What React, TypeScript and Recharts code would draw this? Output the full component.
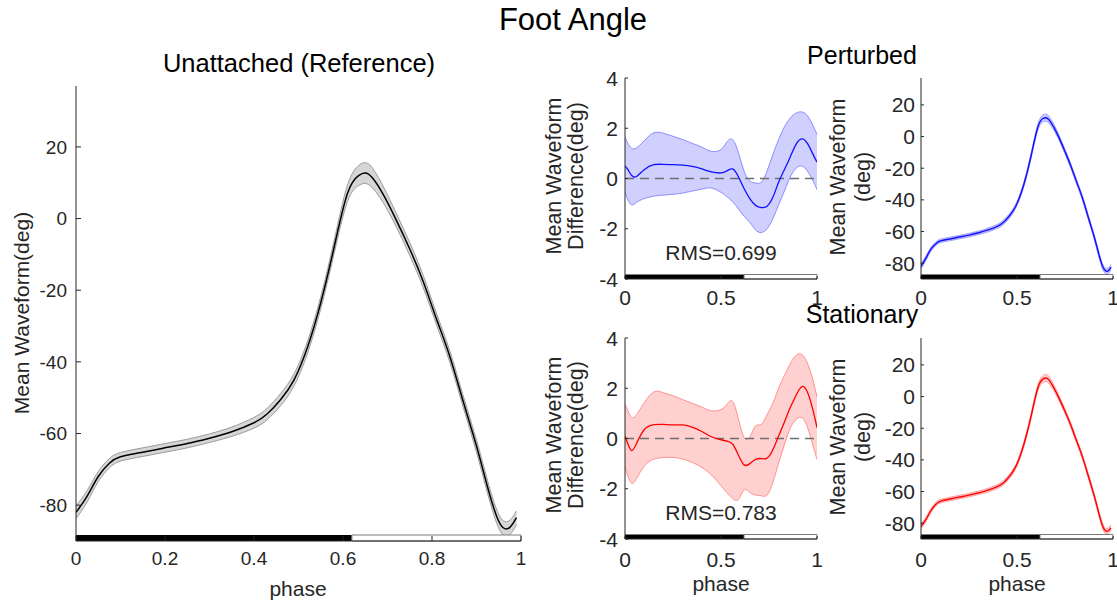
import React from "react";
import {
  ComposedChart,
  Line,
  Area,
  XAxis,
  YAxis,
  ReferenceArea,
  ReferenceLine,
} from "recharts";

// ---- data ----
const phaseRef = [0, 0.025, 0.05, 0.075, 0.1, 0.15, 0.2, 0.25, 0.3, 0.35, 0.4, 0.43, 0.46, 0.49, 0.52, 0.55, 0.58, 0.61, 0.635, 0.65, 0.665, 0.69, 0.72, 0.75, 0.78, 0.81, 0.84, 0.87, 0.9, 0.925, 0.945, 0.96, 0.975, 0.99];
const referenceMean = [-82, -77.5, -72, -68.3, -66.5, -65.2, -64.0, -62.8, -61.3, -59.5, -57.0, -54.5, -50.5, -45, -36, -23.5, -8, 7, 12, 12.7, 11.5, 6.8, -0.5, -8.5, -17.5, -28, -38.5, -51, -63.5, -75, -83, -86.3, -86.2, -83.5];
const referenceSpread = [1.8, 1.6, 1.4, 1.3, 1.2, 1.2, 1.2, 1.2, 1.2, 1.3, 1.5, 1.6, 1.7, 1.7, 1.7, 1.7, 1.8, 2.3, 2.8, 2.9, 2.8, 2.3, 1.9, 1.8, 1.7, 1.6, 1.6, 1.6, 1.7, 1.8, 1.9, 2.0, 2.0, 1.9];
const perturbedMean = [-82, -77, -71.5, -68, -66, -64.7, -63.5, -62.3, -60.8, -59, -56.6, -54.2, -50.2, -44.8, -36.2, -24, -8.5, 6.5, 11.4, 11.9, 10.8, 6.3, -1, -9.5, -18.5, -28.5, -38.5, -50.5, -62.5, -73.8, -81.8, -84.7, -84.9, -82.5];
const perturbedSpread = [1.5, 1.4, 1.3, 1.2, 1.1, 1.1, 1.1, 1.1, 1.1, 1.2, 1.3, 1.4, 1.4, 1.4, 1.4, 1.5, 1.6, 1.9, 2.2, 2.3, 2.2, 1.9, 1.6, 1.5, 1.4, 1.4, 1.4, 1.4, 1.5, 1.6, 1.7, 1.8, 1.8, 1.7];
const stationaryMean = [-82, -77.8, -72.4, -68.4, -66.2, -64.7, -63.5, -62.3, -60.8, -59.1, -56.7, -54.4, -50.5, -45.1, -36.3, -24, -8.8, 6, 11, 11.7, 10.7, 6, -1.3, -9.3, -18, -27.9, -37.8, -49.6, -61.8, -73.2, -81.5, -84.8, -84.8, -83];
const stationarySpread = [1.5, 1.4, 1.3, 1.2, 1.1, 1.1, 1.1, 1.1, 1.1, 1.2, 1.3, 1.4, 1.4, 1.4, 1.4, 1.5, 1.6, 1.9, 2.2, 2.3, 2.2, 1.9, 1.6, 1.5, 1.4, 1.4, 1.4, 1.4, 1.5, 1.6, 1.7, 1.8, 1.8, 1.7];

const phaseDiff = [0, 0.015, 0.035, 0.06, 0.1, 0.15, 0.2, 0.25, 0.3, 0.35, 0.4, 0.45, 0.5, 0.53, 0.56, 0.59, 0.62, 0.65, 0.68, 0.71, 0.74, 0.77, 0.8, 0.83, 0.86, 0.89, 0.92, 0.95, 0.98, 1.0];
const perturbedDiff = [0.5, 0.35, 0.12, 0.08, 0.35, 0.55, 0.56, 0.55, 0.53, 0.48, 0.38, 0.26, 0.22, 0.3, 0.38, 0.08, -0.4, -0.8, -1.07, -1.16, -1.1, -0.75, -0.15, 0.35, 0.85, 1.35, 1.58, 1.4, 0.95, 0.65];
const perturbedDiffUpper = [1.65, 1.4, 1.2, 1.22, 1.5, 1.82, 1.8, 1.68, 1.55, 1.4, 1.25, 1.08, 1.15, 1.45, 1.55, 1.05, 0.3, -0.1, -0.18, -0.15, 0.3, 0.95, 1.55, 2.05, 2.4, 2.6, 2.65, 2.5, 2.1, 1.75];
const perturbedDiffLower = [-0.55, -0.85, -1.05, -0.95, -0.8, -0.7, -0.66, -0.63, -0.58, -0.5, -0.42, -0.38, -0.55, -0.72, -0.92, -1.2, -1.5, -1.75, -2.05, -2.15, -2.0, -1.6, -1.05, -0.5, 0.05, 0.4, 0.5, 0.3, -0.1, -0.45];
const stationaryDiff = [0.1, -0.22, -0.48, -0.2, 0.35, 0.55, 0.56, 0.54, 0.54, 0.45, 0.28, 0.07, -0.05, -0.1, -0.22, -0.65, -1.05, -1.0, -0.83, -0.8, -0.78, -0.45, 0.1, 0.65, 1.22, 1.7, 2.06, 1.85, 1.1, 0.43];
const stationaryDiffUpper = [1.37, 1.1, 0.83, 0.95, 1.42, 1.85, 1.82, 1.7, 1.55, 1.4, 1.25, 1.1, 1.15, 1.35, 1.48, 0.8, 0.05, 0.05, 0.5, 0.56, 0.95, 1.4, 2.0, 2.5, 2.97, 3.3, 3.35, 3.0, 2.3, 1.64];
const stationaryDiffLower = [-1.11, -1.5, -1.78, -1.6, -1.1, -0.82, -0.76, -0.75, -0.82, -0.95, -1.15, -1.45, -1.88, -2.15, -2.38, -2.43, -2.05, -2.15, -2.25, -2.28, -2.25, -1.75, -0.98, -0.25, 0.4, 0.75, 0.83, 0.45, -0.3, -0.84];

const stanceEnd = 0.62;
const rmsPerturbed = "RMS=0.699";
const rmsStationary = "RMS=0.783";

const mainXTicks = [0, 0.2, 0.4, 0.6, 0.8, 1];
const smallXTicks = [0, 0.5, 1];
const waveYTicks = [-80, -60, -40, -20, 0, 20];
const diffYTicks = [-4, -2, 0, 2, 4];
const waveDomain: [number, number] = [-90, 37];
const diffDomain: [number, number] = [-4, 4];

const FONT = '"Liberation Sans", Arial, sans-serif';
const AXIS = "#262626";

function spreadRows(phase: number[], mean: number[], spread: number[]) {
  return phase.map((p, i) => ({
    phase: p,
    mean: mean[i],
    band: [mean[i] - spread[i], mean[i] + spread[i]],
  }));
}

function boundRows(phase: number[], mean: number[], lower: number[], upper: number[]) {
  return phase.map((p, i) => ({ phase: p, mean: mean[i], band: [lower[i], upper[i]] }));
}

interface Box { x0: number; x1: number; y0: number; y1: number }
interface Frame { left: number; top: number; width: number; height: number }

interface PanelProps {
  frame: Frame;
  box: Box;
  data: { phase: number; mean: number; band: number[] }[];
  yDomain: [number, number];
  xTicks: number[];
  yTicks: number[];
  line: string;
  lineWidth: number;
  bandFill: string;
  bandStroke: string;
  fontSize: number;
  tickLen: number;
  xLabelGap: number;
  yLabelGap: number;
  barPx: number;
  zeroLine?: boolean;
}

function Panel(p: PanelProps) {
  const { frame, box } = p;
  const plotH = box.y1 - box.y0;
  const barH = ((p.yDomain[1] - p.yDomain[0]) * p.barPx) / plotH;
  const yMin = p.yDomain[0];

  const bottomTick = (t: any) => (
    <g>
      <line x1={t.x} y1={t.y} x2={t.x} y2={t.y - p.tickLen} stroke={AXIS} />
      <text x={t.x} y={t.y + p.xLabelGap} textAnchor="middle" fontSize={p.fontSize} fill={AXIS} fontFamily={FONT}>
        {String(t.payload.value)}
      </text>
    </g>
  );
  const topTick = (t: any) => (
    <line x1={t.x} y1={t.y} x2={t.x} y2={t.y + p.tickLen} stroke={AXIS} />
  );
  const leftTick = (t: any) => (
    <g>
      <line x1={t.x} y1={t.y} x2={t.x + p.tickLen} y2={t.y} stroke={AXIS} />
      <text x={t.x - p.yLabelGap} y={t.y + p.fontSize * 0.36} textAnchor="end" fontSize={p.fontSize} fill={AXIS} fontFamily={FONT}>
        {String(t.payload.value)}
      </text>
    </g>
  );
  const rightTick = (t: any) => (
    <line x1={t.x} y1={t.y} x2={t.x - p.tickLen} y2={t.y} stroke={AXIS} />
  );

  return (
    <div style={{ position: "absolute", left: frame.left, top: frame.top }}>
      <ComposedChart
        width={frame.width}
        height={frame.height}
        data={p.data}
        margin={{
          top: box.y0 - frame.top,
          right: frame.left + frame.width - box.x1,
          bottom: 0,
          left: 0,
        }}
      >
        <XAxis
          dataKey="phase"
          type="number"
          domain={[0, 1]}
          ticks={p.xTicks}
          height={frame.top + frame.height - box.y1}
          tickSize={0}
          tickMargin={0}
          tickLine={false}
          axisLine={{ stroke: AXIS }}
          tick={bottomTick}
          interval={0}
          allowDataOverflow
        />
        <XAxis
          xAxisId="top"
          orientation="top"
          dataKey="phase"
          type="number"
          domain={[0, 1]}
          ticks={p.xTicks}
          height={0}
          tickSize={0}
          tickMargin={0}
          tickLine={false}
          axisLine={{ stroke: AXIS }}
          tick={topTick}
          interval={0}
          allowDataOverflow
        />
        <YAxis
          type="number"
          domain={p.yDomain}
          ticks={p.yTicks}
          width={box.x0 - frame.left}
          tickSize={0}
          tickMargin={0}
          tickLine={false}
          axisLine={{ stroke: AXIS }}
          tick={leftTick}
          interval={0}
          allowDataOverflow
        />
        <YAxis
          yAxisId="right"
          orientation="right"
          type="number"
          domain={p.yDomain}
          ticks={p.yTicks}
          width={0}
          tickSize={0}
          tickMargin={0}
          tickLine={false}
          axisLine={{ stroke: AXIS }}
          tick={rightTick}
          interval={0}
          allowDataOverflow
        />
        <Area
          dataKey="band"
          type="natural"
          fill={p.bandFill}
          fillOpacity={1}
          stroke={p.bandStroke}
          strokeWidth={1}
          isAnimationActive={false}
          dot={false}
          activeDot={false}
        />
        {p.zeroLine && (
          <ReferenceLine y={0} stroke="#6e6e6e" strokeWidth={1.5} strokeDasharray="9 6" />
        )}
        <Line
          dataKey="mean"
          type="natural"
          stroke={p.line}
          strokeWidth={p.lineWidth}
          dot={false}
          activeDot={false}
          isAnimationActive={false}
        />
        <ReferenceArea x1={0} x2={stanceEnd} y1={yMin} y2={yMin + barH} fill="#000" fillOpacity={1} stroke="none" />
        <ReferenceArea x1={stanceEnd} x2={1} y1={yMin} y2={yMin + barH} fill="#fff" fillOpacity={1} stroke="#7a7a7a" strokeWidth={1} />
      </ComposedChart>
    </div>
  );
}

export default function App() {
  const refData = spreadRows(phaseRef, referenceMean, referenceSpread);
  const pertData = spreadRows(phaseRef, perturbedMean, perturbedSpread);
  const statData = spreadRows(phaseRef, stationaryMean, stationarySpread);
  const pertDiffData = boundRows(phaseDiff, perturbedDiff, perturbedDiffLower, perturbedDiffUpper);
  const statDiffData = boundRows(phaseDiff, stationaryDiff, stationaryDiffLower, stationaryDiffUpper);

  const small = { fontSize: 21, tickLen: 3, barPx: 4.5, xTicks: smallXTicks };
  const blue = { line: "#1010ff", lineWidth: 1.3, bandFill: "#d0d0ff", bandStroke: "#8c8cff" };
  const red = { line: "#ff0000", lineWidth: 1.3, bandFill: "#ffd0d0", bandStroke: "#ff9090" };
  const blueThin = { line: "#1010ff", lineWidth: 1.4, bandFill: "#c8c8ff", bandStroke: "#a0a0ff" };
  const redThin = { line: "#ff0000", lineWidth: 1.4, bandFill: "#ffc8c8", bandStroke: "#ffa0a0" };

  const txt = { fontFamily: FONT, fill: "#000" };
  const lab = { fontFamily: FONT, fill: AXIS };

  return (
    <div style={{ position: "absolute", left: 0, top: 0, width: 1117, height: 601, background: "#fff", overflow: "hidden" }}>
      <Panel
        frame={{ left: 0, top: 40, width: 540, height: 561 }}
        box={{ x0: 76, x1: 521, y0: 86, y1: 541 }}
        data={refData}
        yDomain={waveDomain}
        xTicks={mainXTicks}
        yTicks={waveYTicks}
        line="#000"
        lineWidth={1.5}
        bandFill="#d6d6d6"
        bandStroke="#9c9c9c"
        fontSize={19}
        tickLen={5}
        xLabelGap={24}
        yLabelGap={9}
        barPx={6}
      />
      <Panel
        frame={{ left: 540, top: 60, width: 290, height: 250 }}
        box={{ x0: 625, x1: 817, y0: 78, y1: 279 }}
        data={pertDiffData}
        yDomain={diffDomain}
        yTicks={diffYTicks}
        {...small}
        {...blue}
        xLabelGap={26}
        yLabelGap={7}
        zeroLine
      />
      <Panel
        frame={{ left: 880, top: 60, width: 237, height: 250 }}
        box={{ x0: 921, x1: 1113, y0: 78, y1: 279 }}
        data={pertData}
        yDomain={waveDomain}
        yTicks={waveYTicks}
        {...small}
        {...blueThin}
        xLabelGap={26}
        yLabelGap={6}
      />
      <Panel
        frame={{ left: 540, top: 320, width: 290, height: 281 }}
        box={{ x0: 625, x1: 817, y0: 338, y1: 539 }}
        data={statDiffData}
        yDomain={diffDomain}
        yTicks={diffYTicks}
        {...small}
        {...red}
        xLabelGap={28}
        yLabelGap={7}
        zeroLine
      />
      <Panel
        frame={{ left: 880, top: 320, width: 237, height: 281 }}
        box={{ x0: 921, x1: 1113, y0: 338, y1: 539 }}
        data={statData}
        yDomain={waveDomain}
        yTicks={waveYTicks}
        {...small}
        {...redThin}
        xLabelGap={28}
        yLabelGap={6}
      />

      <svg width={1117} height={601} style={{ position: "absolute", left: 0, top: 0, pointerEvents: "none" }}>
        <text x={573} y={30} fontSize={31} textAnchor="middle" {...txt}>Foot Angle</text>
        <text x={299} y={72} fontSize={25.5} textAnchor="middle" {...txt}>Unattached (Reference)</text>
        <text x={862} y={64} fontSize={25} textAnchor="middle" {...txt}>Perturbed</text>
        <text x={862} y={323} fontSize={25} textAnchor="middle" {...txt}>Stationary</text>

        <text transform="translate(29,313) rotate(-90)" fontSize={21} textAnchor="middle" {...lab}>Mean Waveform(deg)</text>
        <text x={298} y={596} fontSize={21} textAnchor="middle" {...lab}>phase</text>

        <text transform="translate(561,176) rotate(-90)" fontSize={21.5} textAnchor="middle" {...lab}>Mean Waveform</text>
        <text transform="translate(583,176) rotate(-90)" fontSize={21.5} textAnchor="middle" {...lab}>Difference(deg)</text>
        <text transform="translate(561,435) rotate(-90)" fontSize={21.5} textAnchor="middle" {...lab}>Mean Waveform</text>
        <text transform="translate(583,435) rotate(-90)" fontSize={21.5} textAnchor="middle" {...lab}>Difference(deg)</text>

        <text transform="translate(845,177) rotate(-90)" fontSize={21.5} textAnchor="middle" {...lab}>Mean Waveform</text>
        <text transform="translate(870,177) rotate(-90)" fontSize={21.5} textAnchor="middle" {...lab}>(deg)</text>
        <text transform="translate(845,437) rotate(-90)" fontSize={21.5} textAnchor="middle" {...lab}>Mean Waveform</text>
        <text transform="translate(870,437) rotate(-90)" fontSize={21.5} textAnchor="middle" {...lab}>(deg)</text>

        <text x={721} y={260} fontSize={21} textAnchor="middle" {...lab}>{rmsPerturbed}</text>
        <text x={721} y={520} fontSize={21} textAnchor="middle" {...lab}>{rmsStationary}</text>
        <text x={721} y={591} fontSize={21} textAnchor="middle" {...lab}>phase</text>
        <text x={1017} y={591} fontSize={21} textAnchor="middle" {...lab}>phase</text>
      </svg>
    </div>
  );
}
